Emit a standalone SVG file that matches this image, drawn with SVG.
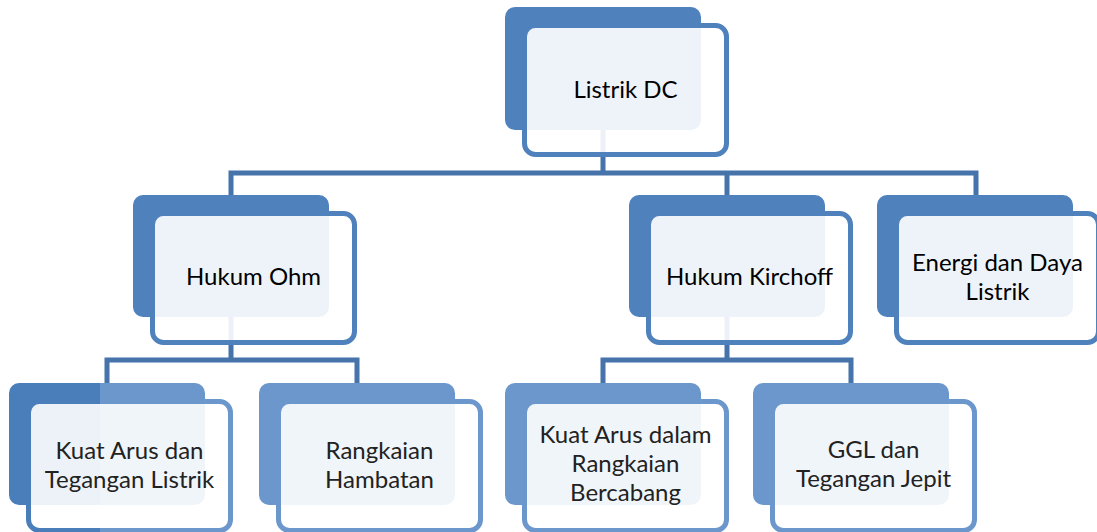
<svg xmlns="http://www.w3.org/2000/svg" width="1097" height="532" viewBox="0 0 1097 532">
<style>
.back1{fill:#4F81BD}
.front1{fill:#FFFFFF;fill-opacity:0.9;stroke:#4F81BD;stroke-width:5}
.back3{fill:#6C97CC}
.front3{fill:#FFFFFF;fill-opacity:0.9;stroke:#6C97CC;stroke-width:5}
.conn{fill:none;stroke:#4573AA;stroke-width:5;stroke-linejoin:miter}
text{font-family:Lato,"Open Sans","Liberation Sans",sans-serif;font-size:24px;text-anchor:middle;fill:#000}
.t3{fill:#222}
</style>
<defs>
<linearGradient id="split" gradientUnits="userSpaceOnUse" x1="0" y1="0" x2="240" y2="0">
<stop offset="0.417" stop-color="#4A7EBB"/>
<stop offset="0.417" stop-color="#6C97CC"/>
</linearGradient>
</defs>
<rect width="1097" height="532" fill="#FFFFFF"/>
<g id="connectors">
<polyline class="conn" points="603,130 603,173"/>
<polyline class="conn" points="231,195 231,173 976,173 976,195"/>
<polyline class="conn" points="727,173 727,195"/>
<polyline class="conn" points="231,317 231,360"/>
<polyline class="conn" points="107,383 107,360 357,360 357,383"/>
<polyline class="conn" points="727,317 727,360"/>
<polyline class="conn" points="603,383 603,360 851,360 851,383"/>
</g>
<g id="node-listrik-dc">
<rect class="back1" x="505" y="7" width="196" height="123" rx="10"/>
<rect class="front1" x="524.5" y="25.5" width="202" height="129" rx="11"/>
<text x="625.5" y="98">Listrik DC</text>
</g>
<g id="node-hukum-ohm">
<rect class="back1" x="133" y="195" width="196" height="122" rx="10"/>
<rect class="front1" x="152.5" y="213.5" width="202" height="129" rx="11"/>
<text x="253.5" y="285">Hukum Ohm</text>
</g>
<g id="node-hukum-kirchoff">
<rect class="back1" x="629" y="195" width="196" height="122" rx="10"/>
<rect class="front1" x="648.5" y="213.5" width="202" height="129" rx="11"/>
<text x="749.5" y="285">Hukum Kirchoff</text>
</g>
<g id="node-energi">
<rect class="back1" x="877" y="195" width="196" height="122" rx="10"/>
<rect class="front1" x="896.5" y="213.5" width="202" height="129" rx="11"/>
<text x="997.5" y="271">Energi dan Daya</text>
<text x="997.5" y="300">Listrik</text>
</g>
<g id="node-kuat-arus-tegangan">
<rect x="9" y="383" width="196" height="122" rx="10" fill="url(#split)"/>
<rect x="28.5" y="401.5" width="202" height="129" rx="11" fill="#FFFFFF" fill-opacity="0.9" stroke="url(#split)" stroke-width="5"/>
<text class="t3" x="129.5" y="459">Kuat Arus dan</text>
<text class="t3" x="129.5" y="488">Tegangan Listrik</text>
</g>
<g id="node-rangkaian-hambatan">
<rect class="back3" x="259" y="383" width="196" height="122" rx="10"/>
<rect class="front3" x="278.5" y="401.5" width="202" height="129" rx="11"/>
<text class="t3" x="379.5" y="459">Rangkaian</text>
<text class="t3" x="379.5" y="488">Hambatan</text>
</g>
<g id="node-kuat-arus-bercabang">
<rect class="back3" x="505" y="383" width="196" height="122" rx="10"/>
<rect class="front3" x="524.5" y="401.5" width="202" height="129" rx="11"/>
<text class="t3" x="625.5" y="443">Kuat Arus dalam</text>
<text class="t3" x="625.5" y="472">Rangkaian</text>
<text class="t3" x="625.5" y="501">Bercabang</text>
</g>
<g id="node-ggl">
<rect class="back3" x="753" y="383" width="196" height="122" rx="10"/>
<rect class="front3" x="772.5" y="401.5" width="202" height="129" rx="11"/>
<text class="t3" x="873.5" y="458">GGL dan</text>
<text class="t3" x="873.5" y="487">Tegangan Jepit</text>
</g>
</svg>
